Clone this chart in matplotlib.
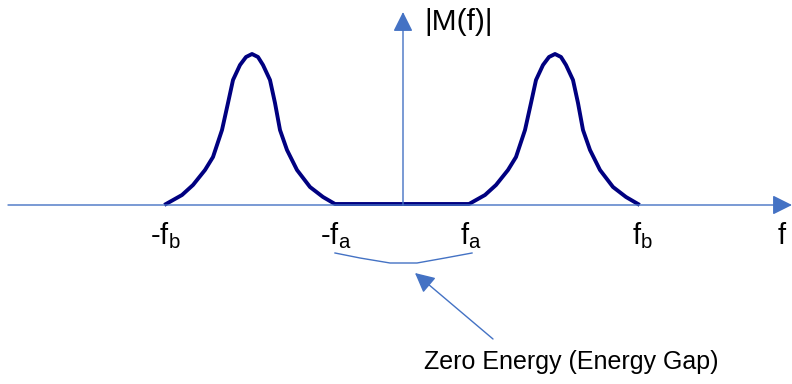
import matplotlib.pyplot as plt

plt.rcParams['font.family'] = ['Liberation Sans', 'DejaVu Sans']
plt.rcParams['mathtext.fontset'] = 'custom'
plt.rcParams['mathtext.rm'] = 'Liberation Sans'
plt.rcParams['mathtext.it'] = 'Liberation Sans'

# canvas in pixel units (y grows downward)
W, H = 792, 384
x_axis_y = 205
y_axis_x = 403

# bump profile (offset from peak centre, pixel height)
bump_dx = [-86, -70, -59, -47, -39, -30, -24, -19, -12, -6, 0,
           6, 11, 18, 23, 28, 35, 45, 58, 71, 83]
bump_y = [204, 195, 185, 170, 157, 130, 103, 80, 65, 57, 54,
          57, 65, 80, 103, 130, 150, 170, 187, 197, 204]
peak_centres = [252, 555]

tick_x = [165, 336, 471, 642, 782]
tick_labels = ['-f$_\\mathrm{b}$', '-f$_\\mathrm{a}$', 'f$_\\mathrm{a}$', 'f$_\\mathrm{b}$', 'f']

gap_x = [335, 360, 390, 417, 445, 472]
gap_y = [253, 258, 263, 263, 258, 253]

axis_blue = '#4472C4'
curve_navy = '#000080'

fig = plt.figure(figsize=(7.92, 3.84), dpi=100)
ax = fig.add_axes([0, 0, 1, 1])
ax.set_xlim(0, W)
ax.set_ylim(H, 0)
ax.axis('off')

# axes with arrow heads
ax.annotate('', xy=(792, x_axis_y), xytext=(8, x_axis_y),
            arrowprops=dict(arrowstyle='-|>,head_length=0.6,head_width=0.3',
                            color=axis_blue, lw=1, mutation_scale=20,
                            shrinkA=0, shrinkB=0))
ax.annotate('', xy=(y_axis_x, 12), xytext=(y_axis_x, x_axis_y),
            arrowprops=dict(arrowstyle='-|>,head_length=0.6,head_width=0.3',
                            color=axis_blue, lw=1, mutation_scale=20,
                            shrinkA=0, shrinkB=0))

# spectrum: two bumps joined by a flat zero segment
xs, ys = [], []
for c in peak_centres:
    xs += [c + d for d in bump_dx]
    ys += bump_y
ax.plot(xs, ys, color=curve_navy, lw=2.8, solid_joinstyle='round')

for x, lab in zip(tick_x, tick_labels):
    ax.text(x, 236, lab, ha='center', va='center', fontsize=21)

ax.text(424, 22, '|M(f)|', ha='left', va='center', fontsize=21.5)

# energy gap bracket and pointer
ax.plot(gap_x, gap_y, color=axis_blue, lw=1)
ax.annotate('', xy=(415, 273), xytext=(493, 339),
            arrowprops=dict(arrowstyle='-|>,head_length=0.6,head_width=0.3',
                            color=axis_blue, lw=1, mutation_scale=20,
                            shrinkA=0, shrinkB=0))
ax.text(571, 362, 'Zero Energy (Energy Gap)', ha='center', va='center', fontsize=18)

fig.savefig('out.png', dpi=100)
